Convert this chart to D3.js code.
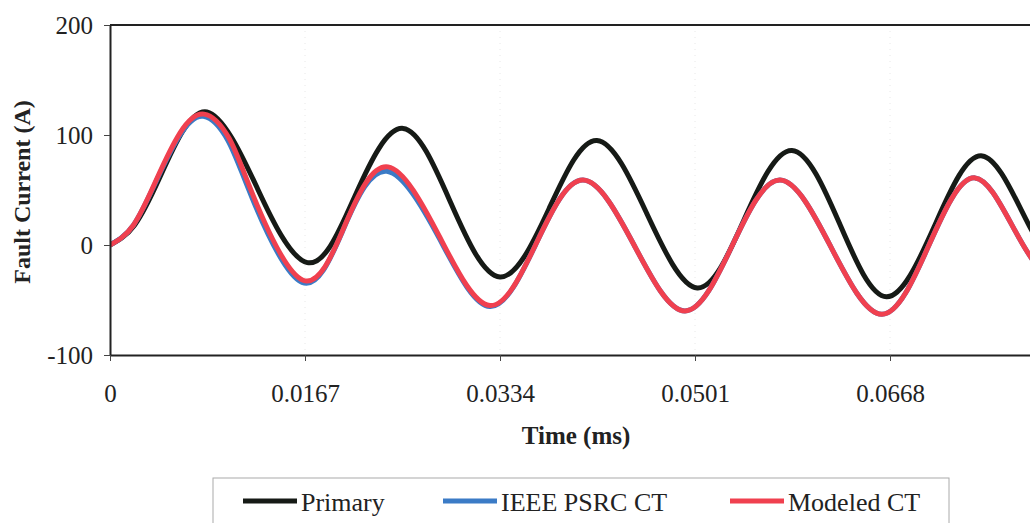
<!DOCTYPE html>
<html>
<head>
<meta charset="utf-8">
<script src="https://cdn.jsdelivr.net/npm/d3@7"></script>
<style>
  body { margin: 0; background: #fff; }
  svg { display: block; }
  .tick text { font-family: 'Liberation Serif', 'Times New Roman', serif; font-size: 25px; fill: #222; }
</style>
</head>
<body>
<div id="chart"></div>
<script>
// values (time in s, current in A)
const xTicks = [0, 0.0167, 0.0334, 0.0501, 0.0668];
const yTicks = [-100, 0, 100, 200];

const primaryTime = [0, 0.0021, 0.0042, 0.0062, 0.0083, 0.0104, 0.0126, 0.0169, 0.0210, 0.0251, 0.0292, 0.0334,
  0.0376, 0.0417, 0.0460, 0.0503, 0.0543, 0.0584, 0.0625, 0.0665, 0.0706, 0.0747, 0.0789, 0.0831];
const primaryCurrent = [0, 18, 60, 103, 121, 98, 52, -16, 45, 106, 38, -29,
  33, 95, 28, -39, 23, 86, 19, -47, 17, 81, 14, -52];

const psrcTime = [0, 0.0020, 0.0040, 0.0060, 0.0080, 0.0101, 0.0122, 0.01645, 0.0201, 0.02372, 0.0282, 0.03254,
  0.03653, 0.04051, 0.04488, 0.04924, 0.05331, 0.05738, 0.06175, 0.06611, 0.0701, 0.07408, 0.0782, 0.0828];
const psrcCurrent = [0, 18, 59, 100, 117, 95, 42, -34, 17, 67, 6, -56,
  2, 59, 0, -60, 0, 59, -2, -63, -1, 61, 0, -62];

const modeledTime = [0, 0.0020, 0.0040, 0.0060, 0.00805, 0.0102, 0.0123, 0.01653, 0.0202, 0.02381, 0.0282, 0.03254,
  0.03653, 0.04051, 0.04488, 0.04924, 0.05331, 0.05738, 0.06175, 0.06611, 0.0701, 0.07408, 0.0782, 0.0828];
const modeledCurrent = [0, 18, 60, 102, 119, 97, 44, -32, 20, 71, 8, -55,
  2, 59, 0, -60, 0, 59, -2, -63, -1, 61, 0, -62];

const seriesNames = ['Primary', 'IEEE PSRC CT', 'Modeled CT'];
const seriesColors = ['#161a16', '#3b7bc6', '#f0404f'];

const width = 1030;
const height = 523;
const plot = { left: 110, top: 25, right: 1085, bottom: 355 };
const serif = "'Liberation Serif', 'Times New Roman', serif";

const svg = d3.select('#chart')
  .append('svg')
  .attr('width', width)
  .attr('height', height);

// the scan is cut at the right: the frame would end at 0.0835
const x = d3.scaleLinear().domain([0, 0.0835]).range([plot.left, plot.right]);
const y = d3.scaleLinear().domain([-100, 200]).range([plot.bottom, plot.top]);

// faint grid the scan shows at the time ticks
svg.selectAll('line.grid')
  .data(xTicks.slice(1))
  .enter()
  .append('line')
  .attr('class', 'grid')
  .attr('x1', d => x(d))
  .attr('x2', d => x(d))
  .attr('y1', plot.top)
  .attr('y2', plot.bottom)
  .attr('stroke', '#e8e8e8')
  .attr('stroke-dasharray', '1,5');

const series = [
  { name: seriesNames[0], color: seriesColors[0], t: primaryTime, v: primaryCurrent },
  { name: seriesNames[1], color: seriesColors[1], t: psrcTime, v: psrcCurrent },
  { name: seriesNames[2], color: seriesColors[2], t: modeledTime, v: modeledCurrent }
];

const line = d3.line()
  .x(d => x(d[0]))
  .y(d => y(d[1]))
  .curve(d3.curveNatural);

svg.append('clipPath')
  .attr('id', 'clip')
  .append('rect')
  .attr('x', plot.left)
  .attr('y', plot.top)
  .attr('width', plot.right - plot.left)
  .attr('height', plot.bottom - plot.top);

svg.append('g')
  .attr('clip-path', 'url(#clip)')
  .selectAll('path')
  .data(series)
  .enter()
  .append('path')
  .attr('d', s => line(d3.zip(s.t, s.v)))
  .attr('fill', 'none')
  .attr('stroke', s => s.color)
  .attr('stroke-width', 5)
  .attr('stroke-linejoin', 'round');

// frame
svg.append('line')
  .attr('x1', plot.left).attr('x2', plot.right)
  .attr('y1', plot.top).attr('y2', plot.top)
  .attr('stroke', '#222').attr('stroke-width', 2);

const yAxis = svg.append('g')
  .attr('transform', `translate(${plot.left},0)`)
  .call(d3.axisLeft(y).tickValues(yTicks).tickFormat(d => String(d))
    .tickSize(6).tickPadding(11).tickSizeOuter(0));

const xAxis = svg.append('g')
  .attr('transform', `translate(0,${plot.bottom})`)
  .call(d3.axisBottom(x).tickValues(xTicks).tickFormat(d => d === 0 ? '0' : d.toFixed(4))
    .tickSize(6).tickPadding(23).tickSizeOuter(0));

[yAxis, xAxis].forEach(a => {
  a.select('.domain').attr('stroke', '#222').attr('stroke-width', 2);
  a.selectAll('.tick line').attr('stroke', '#444').attr('stroke-width', 1);
});

// axis titles
svg.append('text')
  .text('Time (ms)')
  .attr('x', 576)
  .attr('y', 444)
  .attr('text-anchor', 'middle')
  .attr('font-family', serif)
  .attr('font-weight', 'bold')
  .attr('font-size', '25px')
  .attr('fill', '#222');

svg.append('text')
  .text('Fault Current (A)')
  .attr('transform', 'translate(30,192) rotate(-90)')
  .attr('text-anchor', 'middle')
  .attr('font-family', serif)
  .attr('font-weight', 'bold')
  .attr('font-size', '24px')
  .attr('fill', '#222');

// legend
const legendX = [243, 443, 730];

svg.append('rect')
  .attr('x', 213)
  .attr('y', 478)
  .attr('width', 736)
  .attr('height', 60)
  .attr('fill', '#fff')
  .attr('stroke', '#aaa')
  .attr('stroke-width', 1);

const legend = svg.selectAll('g.legend')
  .data(series)
  .enter()
  .append('g')
  .attr('class', 'legend')
  .attr('transform', (d, i) => `translate(${legendX[i]},501)`);

legend.append('line')
  .attr('x1', 0)
  .attr('x2', 54)
  .attr('stroke', d => d.color)
  .attr('stroke-width', 5);

legend.append('text')
  .text(d => d.name)
  .attr('x', 58)
  .attr('y', 10)
  .attr('font-family', serif)
  .attr('font-size', '26px')
  .attr('fill', '#222');
</script>
</body>
</html>
